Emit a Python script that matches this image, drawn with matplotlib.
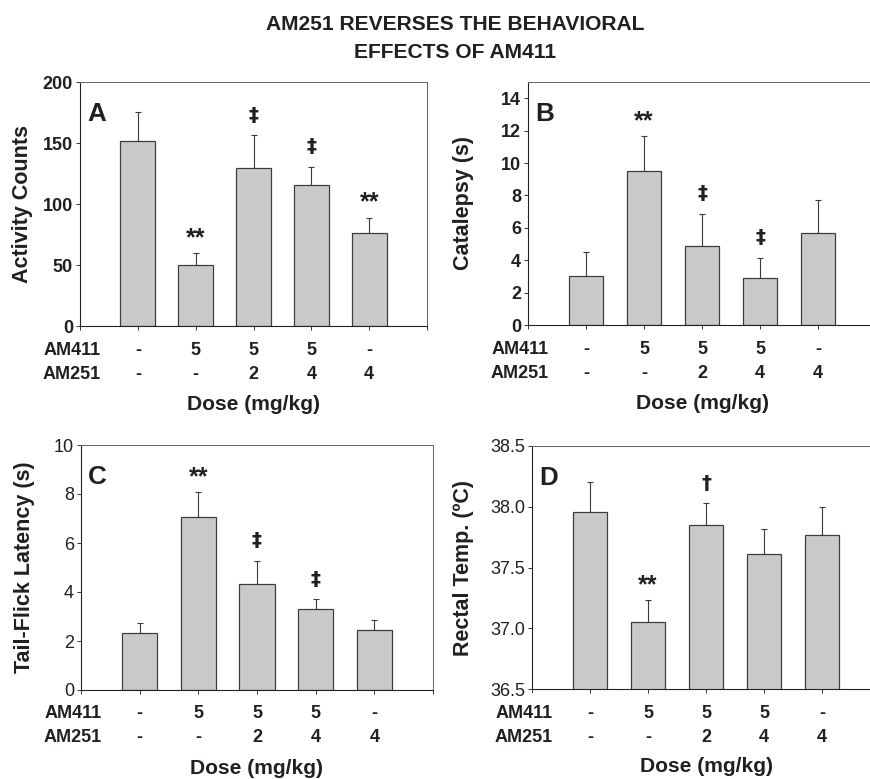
import numpy as np
import matplotlib
matplotlib.use('Agg')
import matplotlib.pyplot as plt

plt.rcParams['font.family'] = ['Liberation Sans', 'DejaVu Sans']

# ------------------------------------------
# Data
# ------------------------------------------
groups = [1, 2, 3, 4, 5]
am411_doses = ['-', '5', '5', '5', '-']
am251_doses = ['-', '-', '2', '4', '4']

activity_mean = [151.5, 50.1, 129.6, 115.3, 75.9]
activity_sem = [23.8, 9.6, 26.6, 15.1, 12.9]
activity_marks = ['', '**', '\u2021', '\u2021', '**']

catalepsy_mean = [3.0, 9.5, 4.87, 2.9, 5.65]
catalepsy_sem = [1.5, 2.15, 2.0, 1.25, 2.07]
catalepsy_marks = ['', '**', '\u2021', '\u2021', '']

tailflick_mean = [2.34, 7.07, 4.31, 3.31, 2.45]
tailflick_sem = [0.39, 1.0, 0.97, 0.39, 0.42]
tailflick_marks = ['', '**', '\u2021', '\u2021', '']

temp_mean = [37.96, 37.05, 37.85, 37.61, 37.77]
temp_sem = [0.24, 0.18, 0.18, 0.21, 0.23]
temp_marks = ['', '**', '\u2020', '', '']

W, H = 870, 779
DPI = 72
TXT = '#231f20'
BAR = '#c8c9cb'
EDGE = '#3a3a3a'

fig = plt.figure(figsize=(W / DPI, H / DPI), dpi=DPI)


def px_axes(l, t, r, b):
    return fig.add_axes([l / W, 1 - b / H, (r - l) / W, (b - t) / H])


def panel(box, mean, sem, marks, ylim, yticks, ylabel, ylabel_x, letter,
          bold_ticks, fmt=None):
    ax = px_axes(*box)
    ax.bar(groups, mean, width=0.6, color=BAR, edgecolor=EDGE, linewidth=1.2,
           zorder=2)
    ax.errorbar(groups, mean, yerr=[np.zeros(len(sem)), sem], fmt='none',
                ecolor=EDGE, elinewidth=1.1, capsize=3, capthick=1.1, zorder=1)
    for x, m, s, mk in zip(groups, mean, sem, marks):
        if not mk:
            continue
        if mk == '**':
            ax.annotate(mk, xy=(x, m + s), xytext=(0, 15),
                        textcoords='offset points', ha='center', va='center',
                        fontsize=25, fontweight='bold', color=TXT)
        else:
            # daggers drawn heavier, like the print
            ax.annotate(mk, xy=(x, m + s), xytext=(0, 20),
                        textcoords='offset points', ha='center', va='center',
                        fontsize=20, fontweight='bold', color=TXT,
                        family='DejaVu Sans')
    ax.set_xlim(0, 6)
    ax.set_ylim(*ylim)
    ax.set_yticks(yticks)
    if fmt:
        ax.set_yticklabels([fmt % v for v in yticks])
    ax.set_xticks(range(7))
    ax.set_xticklabels([])
    ax.tick_params(axis='both', direction='out', length=4, width=1,
                   color=EDGE)
    ax.tick_params(axis='y', labelsize=18, labelcolor=TXT, pad=3)
    if bold_ticks:
        for lab in ax.get_yticklabels():
            lab.set_fontweight('bold')
    for side in ['left', 'bottom']:
        ax.spines[side].set_color('#222222')
        ax.spines[side].set_linewidth(1.1)
    for side in ['top', 'right']:
        ax.spines[side].set_color('#666666')
        ax.spines[side].set_linewidth(1.0)

    # dose rows under the x axis
    rows = [('AM411', am411_doses, 24), ('AM251', am251_doses, 48)]
    for name, vals, dy in rows:
        ax.annotate(name, xy=(0.35, 0), xycoords=('data', 'axes fraction'),
                    xytext=(0, -dy), textcoords='offset points', ha='right',
                    va='center', fontsize=18, fontweight='bold', color=TXT)
        for x, v in zip(groups, vals):
            ax.annotate(v, xy=(x, 0), xycoords=('data', 'axes fraction'),
                        xytext=(0, -dy), textcoords='offset points',
                        ha='center', va='center', fontsize=18,
                        fontweight='bold', color=TXT)
    ax.annotate('Dose (mg/kg)', xy=(3, 0), xycoords=('data', 'axes fraction'),
                xytext=(0, -78), textcoords='offset points', ha='center',
                va='center', fontsize=21, fontweight='bold', color=TXT)

    l, t, r, b = box
    fig.text(ylabel_x / W, 1 - (t + b) / 2 / H, ylabel, rotation=90,
             ha='center', va='center', fontsize=21.5, fontweight='bold',
             color=TXT)
    ax.annotate(letter, xy=(0, 1), xycoords='axes fraction', xytext=(7, -32),
                textcoords='offset points', ha='left', va='center',
                fontsize=26, fontweight='bold', color=TXT)
    return ax


panel((80, 82, 427, 326), activity_mean, activity_sem, activity_marks,
      (0, 200), np.arange(0, 201, 50), 'Activity Counts', 23, 'A', True)
panel((528, 82, 876, 325), catalepsy_mean, catalepsy_sem, catalepsy_marks,
      (0, 15), np.arange(0, 15, 2), 'Catalepsy (s)', 463, 'B', True)
panel((81, 445, 433, 690), tailflick_mean, tailflick_sem, tailflick_marks,
      (0, 10), np.arange(0, 11, 2), 'Tail-Flick Latency (s)', 25, 'C', False)
panel((532, 446, 880, 689), temp_mean, temp_sem, temp_marks,
      (36.5, 38.5), np.arange(36.5, 38.51, 0.5), 'Rectal Temp. (\u00baC)', 463,
      'D', False, fmt='%.1f')

fig.text(455 / W, 1 - 24 / H, 'AM251 REVERSES THE BEHAVIORAL', ha='center',
         va='center', fontsize=21, fontweight='bold', color=TXT)
fig.text(455 / W, 1 - 52 / H, 'EFFECTS OF AM411', ha='center', va='center',
         fontsize=21, fontweight='bold', color=TXT)

fig.savefig('out.png', dpi=DPI)
